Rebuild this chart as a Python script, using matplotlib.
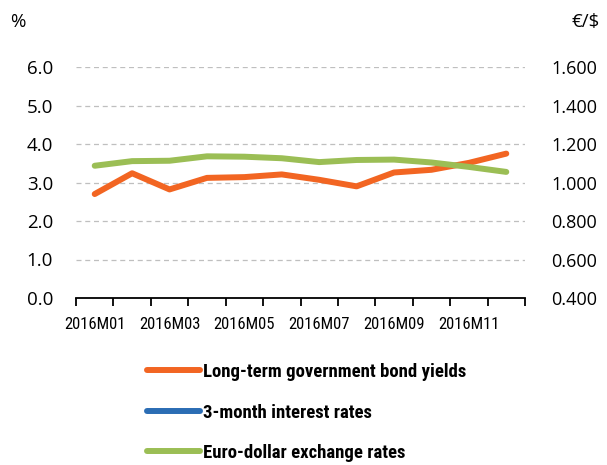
import matplotlib
matplotlib.use("Agg")
import matplotlib.pyplot as plt
from matplotlib import font_manager as fm
from matplotlib.lines import Line2D

# Monthly observations, 2016
months = ["2016M01", "2016M02", "2016M03", "2016M04", "2016M05", "2016M06",
          "2016M07", "2016M08", "2016M09", "2016M10", "2016M11", "2016M12"]
bond_yields = [2.70, 3.24, 2.82, 3.12, 3.14, 3.21, 3.07, 2.90, 3.26, 3.33, 3.51, 3.75]
rates_3m = [-0.15, -0.18, -0.23, -0.25, -0.26, -0.27, -0.29, -0.30, -0.30, -0.31, -0.31, -0.32]
eur_usd = [1.087, 1.111, 1.113, 1.136, 1.134, 1.126, 1.106, 1.117, 1.119, 1.104, 1.081, 1.055]

left_ticks = [0.0, 1.0, 2.0, 3.0, 4.0, 5.0, 6.0]
right_ticks = [0.400, 0.600, 0.800, 1.000, 1.200, 1.400, 1.600]

series_names = ["Long-term government bond yields", "3-month interest rates",
                "Euro-dollar exchange rates"]
colors = ["#F26522", "#2B6DB4", "#9BBE55"]

available = {f.name for f in fm.fontManager.ttflist}
def pick(*names):
    for n in names:
        if n in available:
            return n
    return "DejaVu Sans"

regular = pick("Open Sans", "Noto Sans", "DejaVu Sans")
narrow = pick("Liberation Sans Narrow", "Roboto Condensed", "Open Sans Condensed", "DejaVu Sans")

fig = plt.figure(figsize=(6.07, 4.65), dpi=100)
ax = fig.add_axes([76 / 607, 1 - 298 / 465, (525 - 76) / 607, (298 - 67) / 465])
ax2 = ax.twinx()

x = list(range(len(months)))
lw = 4.3
ax.plot(x, rates_3m, color=colors[1], lw=lw, solid_capstyle="round", zorder=2)
ax.plot(x, bond_yields, color=colors[0], lw=lw, solid_capstyle="round", zorder=3)
ax2.plot(x, eur_usd, color=colors[2], lw=lw, solid_capstyle="round", zorder=3)

ax.set_xlim(-0.5, len(months) - 0.5)
ax.set_ylim(0, 6)
ax2.set_ylim(0.4, 1.6)

ax.set_yticks(left_ticks)
ax.set_yticklabels([f"{v:.1f}" for v in left_ticks], fontsize=13.5, family=regular)
ax2.set_yticks(right_ticks)
ax2.set_yticklabels([f"{v:.3f}" for v in right_ticks], fontsize=13, family=regular)

ax.set_xticks(x[::2])
ax.set_xticklabels(months[::2], fontsize=12, family=narrow)
ax.set_xticks([i - 0.5 for i in range(len(months) + 1)], minor=True)
ax.tick_params(axis="x", which="major", length=0, pad=14)
ax.tick_params(axis="x", which="minor", length=6, width=1.3, color="black")
ax.tick_params(axis="y", length=0, pad=16.5)
ax2.tick_params(axis="y", length=0, pad=19)

for a in (ax, ax2):
    for s in ("top", "left", "right", "bottom"):
        a.spines[s].set_visible(False)
ax.spines["bottom"].set_visible(True)
ax.spines["bottom"].set_linewidth(1.3)
ax.spines["bottom"].set_zorder(5)

for v in left_ticks[1:]:
    ax.axhline(v, color="#BFBFBF", lw=0.9, ls=(0, (4, 3)), zorder=1)

fig.text(10 / 607, 1 - 22 / 465, "%", fontsize=13.5, family=regular, va="center", ha="left")
fig.text(600 / 607, 1 - 22 / 465, "€/$", fontsize=13.5, family=regular, va="center", ha="right")

handles = [Line2D([], [], color=c, lw=lw, solid_capstyle="round") for c in colors]
fig.legend(handles, series_names, loc="upper left", bbox_to_anchor=(147 / 607, 1 - 363 / 465),
           frameon=False, borderpad=0, borderaxespad=0,
           handlelength=2.85, handletextpad=0.15, labelspacing=1.2,
           prop={"family": narrow, "weight": "bold", "size": 13.5})

fig.savefig("out.png", dpi=100)
